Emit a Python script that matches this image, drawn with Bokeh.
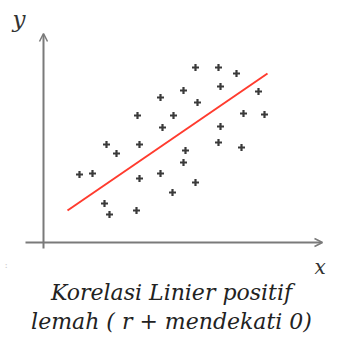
from bokeh.plotting import figure
from bokeh.models import Range1d, Arrow, OpenHead, Label
from bokeh.embed import file_html
from bokeh.resources import INLINE

# Scatter observations (x, y)
x_vals = [7.6, 8.75, 9.65, 7.0, 8.85, 10.75, 5.85, 7.7, 4.7, 6.5,
          10.0, 11.05, 5.95, 8.85, 3.15, 4.8, 8.75, 9.9, 3.65, 7.1,
          7.0, 1.8, 2.45, 4.8, 5.85, 7.6, 6.45, 3.05, 3.3, 4.65]
y_vals = [8.75, 8.75, 8.45, 7.6, 7.8, 7.55, 7.25, 7.0, 6.35, 6.35,
          6.45, 6.4, 5.75, 5.8, 4.9, 4.9, 5.0, 4.75, 4.45, 4.6,
          4.0, 3.4, 3.45, 3.2, 3.45, 3.0, 2.5, 1.95, 1.4, 1.6]

# Regression line end points
trend_x = [1.2, 11.2]
trend_y = [1.6, 8.45]

caption_lines = ["Korelasi Linier positif", "lemah ( r + mendekati 0)"]

AXIS = "#7a7a7a"
FONT = "DejaVu Serif"

p = figure(width=349, height=343, output_backend="svg", toolbar_location=None,
           x_range=Range1d(-2.15, 15.3), y_range=Range1d(-5.05, 12.1),
           x_axis_type=None, y_axis_type=None, min_border=0)
p.grid.visible = False
p.outline_line_color = None
p.background_fill_color = "white"

# Coordinate axes with open arrow heads
p.add_layout(Arrow(x_start=0, y_start=-0.3, x_end=0, y_end=10.45,
                   line_color=AXIS, line_width=2,
                   end=OpenHead(size=8, line_color=AXIS, line_width=1.5)))
p.add_layout(Arrow(x_start=-0.9, y_start=0, x_end=13.95, y_end=0,
                   line_color=AXIS, line_width=2,
                   end=OpenHead(size=8, line_color=AXIS, line_width=1.5)))

# Trend line
p.line(trend_x, trend_y, line_color="#ff3b2e", line_width=2)

# Data points
p.scatter(x_vals, y_vals, marker="cross", size=7, line_width=2.2, line_color="#3a3a3a")

# Axis names
p.add_layout(Label(x=-1.55, y=11.2, text="y", text_font=FONT, text_font_style="italic",
                   text_font_size="23px", text_color="#333333", text_baseline="middle"))
p.add_layout(Label(x=13.55, y=-1.2, text="x", text_font=FONT, text_font_style="italic",
                   text_font_size="20px", text_color="#333333", text_baseline="middle"))
p.add_layout(Label(x=-1.95, y=-1.1, text=":", text_font=FONT, text_font_size="10px",
                   text_color="#cccccc", text_baseline="middle"))

# Caption
for i, line in enumerate(caption_lines):
    p.add_layout(Label(x=6.4, y=-2.475 - 1.45 * i, text=line, text_font=FONT,
                       text_font_style="italic", text_font_size="22px",
                       text_color="#222222", text_align="center",
                       text_baseline="middle"))

open("out.html", "w").write(file_html(p, INLINE))
